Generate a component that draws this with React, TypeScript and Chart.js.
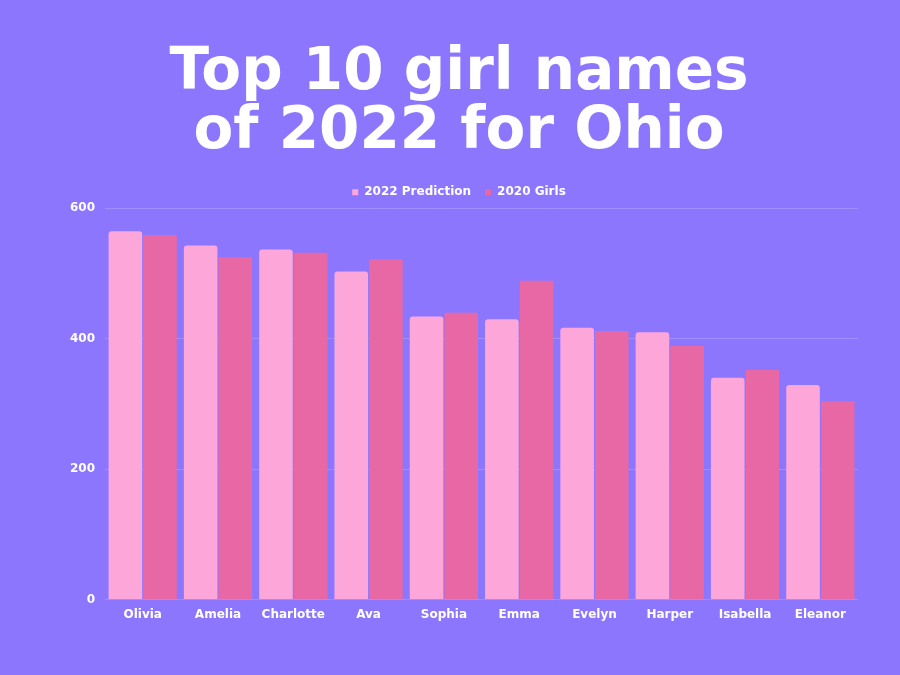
import React, { useEffect, useRef } from "react";
import { Chart, registerables } from "chart.js";

Chart.register(...registerables);

const categories = ["Olivia", "Amelia", "Charlotte", "Ava", "Sophia", "Emma", "Evelyn", "Harper", "Isabella", "Eleanor"];
const prediction2022 = [565, 543, 537, 503, 434, 430, 417, 410, 340, 329];
const girls2020 = [559, 525, 532, 522, 440, 489, 412, 389, 352, 304];
const titleLines = ["Top 10 girl names", "of 2022 for Ohio"];
const seriesNames = ["2022 Prediction", "2020 Girls"];

const BG = "#8C76FE";
const FONT = "'DejaVu Sans', 'Open Sans', sans-serif";

export default function App() {
  const ref = useRef<HTMLCanvasElement | null>(null);
  useEffect(() => {
    document.body.style.margin = "0";
    const ctx = ref.current!.getContext("2d")!;
    const chart = new Chart(ctx, {
      type: "bar",
      data: {
        labels: categories,
        datasets: [
          { label: seriesNames[0], data: prediction2022, backgroundColor: "#FDA6DA", borderRadius: 3, borderSkipped: "bottom", categoryPercentage: 0.92, barPercentage: 0.97 },
          { label: seriesNames[1], data: girls2020, backgroundColor: "#E868A6", borderRadius: 1, borderSkipped: "bottom", categoryPercentage: 0.92, barPercentage: 0.97 },
        ],
      },
      options: {
        animation: false,
        responsive: false,
        maintainAspectRatio: false,
        layout: { padding: { left: 60, right: 42, top: 44, bottom: 45 } },
        plugins: {
          title: {
            display: true,
            text: titleLines,
            color: "#ffffff",
            font: { family: FONT, size: 58, weight: "bold", lineHeight: 1.02 },
            padding: { top: 0, bottom: 10 },
          },
          legend: {
            display: true,
            labels: {
              color: "#ffffff",
              font: { family: FONT, size: 12, weight: "bold" },
              usePointStyle: true,
              pointStyle: "rect",
              boxWidth: 6,
              boxHeight: 6,
              padding: 14,
            },
          },
          tooltip: { enabled: false },
        },
        scales: {
          x: {
            grid: { display: false, drawTicks: false },
            border: { display: false },
            ticks: { color: "#ffffff", font: { family: FONT, size: 12, weight: "bold" }, padding: 8 },
          },
          y: {
            min: 0,
            max: 600,
            grid: { color: "rgba(255,255,255,0.18)", drawTicks: false },
            border: { display: false },
            ticks: { stepSize: 200, color: "#ffffff", font: { family: FONT, size: 12, weight: "bold" }, padding: 10 },
          },
        },
      },
    });
    return () => chart.destroy();
  }, []);
  return (
    <div style={{ width: 900, height: 675, background: BG }}>
      <canvas ref={ref} width={900} height={675} />
    </div>
  );
}
